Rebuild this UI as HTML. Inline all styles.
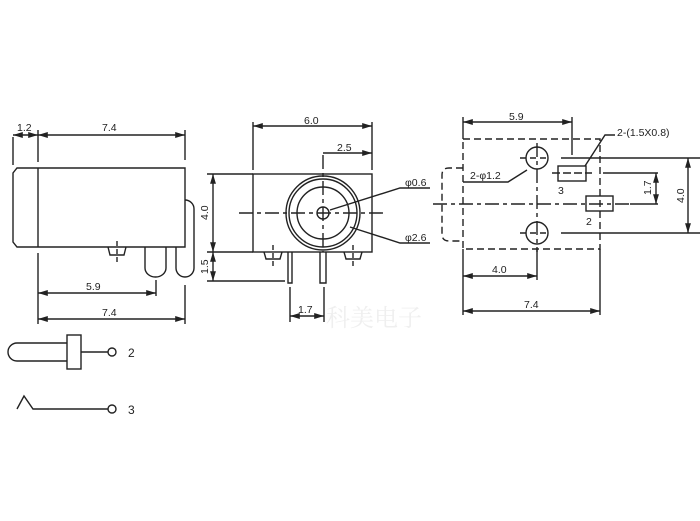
<!DOCTYPE html>
<html><head><meta charset="utf-8"><style>
html,body{margin:0;padding:0;background:#fff;width:700px;height:521px;overflow:hidden}
svg{display:block}
text{font-family:"Liberation Sans",sans-serif;font-size:10.5px;fill:#222}
</style></head><body>
<svg width="700" height="521" viewBox="0 0 700 521" xmlns="http://www.w3.org/2000/svg">
<defs>
<marker id="a" viewBox="0 0 10 6" refX="10" refY="3" markerWidth="7" markerHeight="4.5" orient="auto-start-reverse"><path d="M0,0 L10,3 L0,6 z" fill="#222"/></marker>
</defs>
<g stroke="#222" stroke-width="1.4" fill="none">
<!-- Left view -->
<path d="M17,168 L185,168 L185,247 L17,247 L13,242 L13,173 Z"/>
<line x1="38" y1="168" x2="38" y2="247"/>
<line x1="13" y1="137" x2="13" y2="165"/>
<line x1="38" y1="130" x2="38" y2="162"/>
<line x1="185" y1="130" x2="185" y2="160"/>
<line x1="13" y1="135" x2="38" y2="135" marker-start="url(#a)" marker-end="url(#a)"/>
<line x1="38" y1="135" x2="185" y2="135" marker-start="url(#a)" marker-end="url(#a)"/>
<path d="M108,247 L110,255 L124,255 L126,247"/>
<line x1="117" y1="241" x2="117" y2="262" stroke-dasharray="5,3"/>
<path d="M145,247 L145,268 A10.5,9 0 0 0 166,268 L166,247"/>
<path d="M185,200 A9,9 0 0 1 194,209 L194,268 A9,9 0 0 1 176,268 L176,247"/>
<line x1="38" y1="253" x2="38" y2="324"/>
<line x1="156" y1="280" x2="156" y2="296"/>
<line x1="185" y1="285" x2="185" y2="324"/>
<line x1="38" y1="293" x2="156" y2="293" marker-start="url(#a)" marker-end="url(#a)"/>
<line x1="38" y1="319" x2="185" y2="319" marker-start="url(#a)" marker-end="url(#a)"/>
<!-- Middle view -->
<rect x="253" y="174" width="119" height="78"/>
<circle cx="323" cy="213" r="37"/>
<circle cx="323" cy="213" r="34"/>
<circle cx="323" cy="213" r="26"/>
<circle cx="323" cy="213" r="6"/>
<line x1="239" y1="213" x2="383" y2="213" stroke-dasharray="14,4,4,4"/>
<line x1="323" y1="155" x2="323" y2="252" stroke-dasharray="14,4,4,4"/>
<line x1="253" y1="122" x2="253" y2="170"/>
<line x1="372" y1="122" x2="372" y2="170"/>
<line x1="253" y1="126" x2="372" y2="126" marker-start="url(#a)" marker-end="url(#a)"/>
<line x1="323" y1="153" x2="372" y2="153" marker-end="url(#a)"/>
<path d="M330,210 L400,188 L430,188"/>
<path d="M350,227 L400,243 L430,243"/>
<line x1="207" y1="174" x2="253" y2="174"/>
<line x1="207" y1="252" x2="253" y2="252"/>
<line x1="207" y1="281" x2="285" y2="281"/>
<line x1="213" y1="174" x2="213" y2="252" marker-start="url(#a)" marker-end="url(#a)"/>
<line x1="213" y1="252" x2="213" y2="281" marker-start="url(#a)" marker-end="url(#a)"/>
<path d="M264,252 L266,259 L280,259 L282,252"/>
<path d="M344,252 L346,259 L360,259 L362,252"/>
<line x1="273" y1="245" x2="273" y2="266" stroke-dasharray="5,3"/>
<line x1="353" y1="245" x2="353" y2="266" stroke-dasharray="5,3"/>
<path d="M288,252 L288,283 L292,283 L292,252"/>
<path d="M320,252 L320,283 L326,283 L326,252"/>
<line x1="290" y1="287" x2="290" y2="322"/>
<line x1="324" y1="287" x2="324" y2="322"/>
<line x1="290" y1="316" x2="324" y2="316" marker-start="url(#a)" marker-end="url(#a)"/>
<!-- Right view -->
<rect x="463" y="139" width="137" height="110" stroke-dasharray="7,4"/>
<path d="M463,168 L449,168 Q442,168 442,175 L442,234 Q442,241 449,241 L463,241" stroke-dasharray="7,4"/>
<circle cx="537" cy="158" r="11"/>
<circle cx="537" cy="233" r="11"/>
<line x1="537" y1="143" x2="537" y2="252" stroke-dasharray="14,4,4,4"/>
<line x1="433" y1="204" x2="630" y2="204" stroke-dasharray="14,4,4,4"/>
<line x1="630" y1="204" x2="658" y2="204"/>
<line x1="520" y1="158" x2="550" y2="158" stroke-dasharray="6,4"/>
<line x1="520" y1="233" x2="550" y2="233" stroke-dasharray="6,4"/>
<line x1="561" y1="158" x2="700" y2="158"/>
<line x1="561" y1="233" x2="700" y2="233"/>
<line x1="603" y1="173" x2="658" y2="173"/>
<rect x="558" y="166" width="28" height="15"/>
<rect x="586" y="196" width="27" height="15"/>
<line x1="552" y1="173" x2="592" y2="173" stroke-dasharray="8,3"/>
<line x1="656" y1="173" x2="656" y2="204" marker-start="url(#a)" marker-end="url(#a)"/>
<line x1="688" y1="158" x2="688" y2="233" marker-start="url(#a)" marker-end="url(#a)"/>
<line x1="463" y1="117" x2="463" y2="139"/>
<line x1="572" y1="117" x2="572" y2="155"/>
<line x1="463" y1="122" x2="572" y2="122" marker-start="url(#a)" marker-end="url(#a)"/>
<path d="M585,166 L605,135 L615,135"/>
<path d="M463,182 L508,182 L527,170"/>
<line x1="463" y1="249" x2="463" y2="315"/>
<line x1="600" y1="249" x2="600" y2="315"/>
<line x1="537" y1="249" x2="537" y2="280"/>
<line x1="463" y1="276" x2="537" y2="276" marker-start="url(#a)" marker-end="url(#a)"/>
<line x1="463" y1="311" x2="600" y2="311" marker-start="url(#a)" marker-end="url(#a)"/>
<!-- Schematic -->
<path d="M67,343 L17,343 A9,9 0 0 0 17,361 L67,361"/>
<rect x="67" y="335" width="14" height="34"/>
<line x1="81" y1="352" x2="108" y2="352"/>
<circle cx="112" cy="352" r="4"/>
<path d="M17,409 L24,396 L33,409 L108,409"/>
<circle cx="112" cy="409" r="4"/>
</g>
<g>
<text x="17" y="131">1.2</text>
<text x="102" y="131">7.4</text>
<text x="86" y="290">5.9</text>
<text x="102" y="316">7.4</text>
<text x="304" y="124">6.0</text>
<text x="337" y="151">2.5</text>
<text x="405" y="186">φ0.6</text>
<text x="405" y="241">φ2.6</text>
<text x="298" y="313">1.7</text>
<text transform="translate(208,220) rotate(-90)">4.0</text>
<text transform="translate(208,274) rotate(-90)">1.5</text>
<text x="509" y="120">5.9</text>
<text x="617" y="136">2-(1.5X0.8)</text>
<text x="470" y="179">2-φ1.2</text>
<text x="558" y="194">3</text>
<text x="586" y="225">2</text>
<text transform="translate(651,195) rotate(-90)">1.7</text>
<text transform="translate(684,203) rotate(-90)">4.0</text>
<text x="492" y="273">4.0</text>
<text x="524" y="308">7.4</text>
<text x="128" y="357" style="font-size:12px">2</text>
<text x="128" y="414" style="font-size:12px">3</text>
<text x="326" y="326" style="font-family:'Noto Serif CJK SC',serif;font-size:24px;fill:#efefef">科美电子</text>
</g>
</svg>
</body></html>
